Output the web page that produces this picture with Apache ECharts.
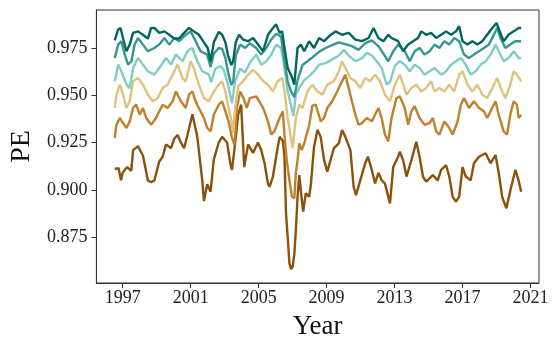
<!DOCTYPE html>
<html>
<head>
<meta charset="utf-8">
<script src="https://cdn.jsdelivr.net/npm/echarts@6/dist/echarts.min.js"></script>
<style>
  html, body { margin: 0; padding: 0; background: #fff; }
  #chart { width: 557px; height: 350px; }
</style>
</head>
<body>
<div id="chart"></div>
<script>
// tick labels
const yearTicks = [1997, 2001, 2005, 2009, 2013, 2017, 2021]
const peTicks = [0.875, 0.9, 0.925, 0.95, 0.975]

// series, [year, PE]
const brownPE = [[1996.53,0.911],[1996.75,0.9115],[1996.90,0.905],[1997.00,0.909],[1997.25,0.912],[1997.50,0.910],[1997.61,0.921],[1997.90,0.923],[1998.19,0.918],[1998.48,0.905],[1998.67,0.904],[1998.86,0.905],[1999.15,0.915],[1999.35,0.9175],[1999.55,0.924],[1999.84,0.922],[2000.03,0.927],[2000.23,0.929],[2000.42,0.925],[2000.61,0.922],[2000.81,0.929],[2001.10,0.940],[2001.39,0.928],[2001.68,0.905],[2001.78,0.894],[2001.97,0.903],[2002.17,0.899],[2002.36,0.916],[2002.65,0.925],[2002.85,0.928],[2003.14,0.925],[2003.33,0.914],[2003.43,0.9105],[2003.62,0.925],[2003.80,0.940],[2003.97,0.945],[2004.15,0.912],[2004.38,0.924],[2004.67,0.9195],[2004.96,0.925],[2005.15,0.921],[2005.35,0.914],[2005.54,0.9034],[2005.64,0.9016],[2005.84,0.907],[2006.03,0.9175],[2006.23,0.928],[2006.42,0.926],[2006.52,0.9175],[2006.61,0.8875],[2006.71,0.875],[2006.81,0.861],[2006.91,0.858],[2007.00,0.8593],[2007.10,0.866],[2007.19,0.8787],[2007.29,0.8963],[2007.39,0.9078],[2007.54,0.8946],[2007.62,0.8884],[2007.77,0.8981],[2007.97,0.8963],[2008.07,0.9025],[2008.26,0.9228],[2008.46,0.9316],[2008.65,0.928],[2008.85,0.9157],[2009.04,0.9096],[2009.23,0.9157],[2009.43,0.922],[2009.72,0.9246],[2009.91,0.9316],[2010.10,0.928],[2010.40,0.921],[2010.59,0.9016],[2010.73,0.8972],[2010.98,0.905],[2011.27,0.914],[2011.43,0.9175],[2011.66,0.9105],[2011.85,0.9034],[2012.05,0.909],[2012.24,0.905],[2012.43,0.9034],[2012.73,0.8928],[2012.92,0.912],[2013.21,0.9175],[2013.31,0.9201],[2013.50,0.9157],[2013.70,0.907],[2013.99,0.9157],[2014.28,0.9254],[2014.47,0.9175],[2014.67,0.907],[2014.86,0.9043],[2015.25,0.9078],[2015.54,0.905],[2015.74,0.9105],[2016.03,0.913],[2016.22,0.907],[2016.42,0.8963],[2016.61,0.8937],[2016.80,0.8963],[2017.00,0.912],[2017.19,0.907],[2017.48,0.905],[2017.67,0.914],[2017.97,0.9175],[2018.36,0.9193],[2018.65,0.914],[2018.94,0.9184],[2019.13,0.909],[2019.33,0.8963],[2019.58,0.8902],[2019.82,0.8999],[2020.11,0.9105],[2020.30,0.905],[2020.45,0.899]]

const orangePE = [[1996.53,0.9274],[1996.63,0.9344],[1996.83,0.938],[1997.02,0.9353],[1997.22,0.9327],[1997.41,0.9362],[1997.61,0.9433],[1997.80,0.945],[1997.99,0.9397],[1998.19,0.9433],[1998.38,0.938],[1998.67,0.9344],[1998.96,0.938],[1999.15,0.9415],[1999.35,0.945],[1999.64,0.9433],[1999.94,0.9468],[2000.13,0.952],[2000.42,0.9468],[2000.71,0.9433],[2000.90,0.9503],[2001.10,0.952],[2001.29,0.9468],[2001.48,0.9433],[2001.78,0.938],[2001.97,0.9327],[2002.17,0.9309],[2002.36,0.9397],[2002.65,0.945],[2002.85,0.9468],[2003.04,0.9415],[2003.23,0.9362],[2003.43,0.9274],[2003.58,0.9238],[2003.72,0.9433],[2003.91,0.952],[2004.11,0.9485],[2004.30,0.9433],[2004.48,0.9485],[2004.86,0.9494],[2005.26,0.9433],[2005.55,0.9362],[2005.74,0.9292],[2005.93,0.9309],[2006.23,0.938],[2006.42,0.9415],[2006.52,0.9292],[2006.65,0.916],[2006.81,0.905],[2006.96,0.8963],[2007.10,0.8955],[2007.19,0.909],[2007.29,0.9157],[2007.39,0.9246],[2007.54,0.921],[2007.68,0.9246],[2007.97,0.934],[2008.16,0.9445],[2008.36,0.945],[2008.65,0.9362],[2008.85,0.938],[2009.04,0.9433],[2009.33,0.9468],[2009.62,0.952],[2009.91,0.9574],[2010.10,0.9609],[2010.30,0.9538],[2010.49,0.9468],[2010.69,0.9397],[2010.88,0.9344],[2011.08,0.9353],[2011.37,0.938],[2011.66,0.9362],[2011.85,0.9397],[2012.05,0.9433],[2012.24,0.938],[2012.43,0.9292],[2012.63,0.9256],[2012.82,0.938],[2013.11,0.9485],[2013.31,0.9494],[2013.60,0.9433],[2013.80,0.9344],[2013.99,0.9415],[2014.18,0.9442],[2014.47,0.938],[2014.76,0.9344],[2015.06,0.9353],[2015.25,0.938],[2015.45,0.9309],[2015.64,0.9292],[2015.93,0.9362],[2016.22,0.9327],[2016.42,0.9292],[2016.71,0.9362],[2016.90,0.945],[2017.09,0.9485],[2017.38,0.9433],[2017.67,0.9468],[2017.97,0.9433],[2018.26,0.9415],[2018.45,0.938],[2018.65,0.9415],[2018.94,0.9468],[2019.13,0.9397],[2019.42,0.9309],[2019.62,0.9292],[2019.81,0.9397],[2020.01,0.9468],[2020.20,0.945],[2020.30,0.938],[2020.45,0.9397]]

const tanPE = [[1996.53,0.9433],[1996.63,0.9503],[1996.83,0.9556],[1997.02,0.9503],[1997.22,0.9433],[1997.41,0.9468],[1997.61,0.9574],[1997.90,0.9591],[1998.19,0.9556],[1998.48,0.9503],[1998.77,0.9468],[1999.06,0.9485],[1999.35,0.9538],[1999.64,0.9556],[2000.03,0.9627],[2000.23,0.9662],[2000.52,0.9591],[2000.71,0.9574],[2001.00,0.968],[2001.19,0.9644],[2001.48,0.9556],[2001.78,0.9485],[2002.07,0.9468],[2002.36,0.952],[2002.65,0.9556],[2002.85,0.9574],[2003.04,0.952],[2003.23,0.9433],[2003.39,0.937],[2003.50,0.930],[2003.62,0.944],[2003.80,0.955],[2004.09,0.9575],[2004.38,0.9609],[2004.67,0.9635],[2004.97,0.9609],[2005.26,0.9575],[2005.55,0.9556],[2005.84,0.952],[2006.12,0.9574],[2006.40,0.9591],[2006.52,0.952],[2006.71,0.938],[2006.90,0.9274],[2007.00,0.922],[2007.19,0.938],[2007.39,0.945],[2007.58,0.9433],[2007.87,0.952],[2008.16,0.9556],[2008.46,0.952],[2008.75,0.9503],[2009.04,0.9556],[2009.43,0.9574],[2009.72,0.9627],[2009.91,0.968],[2010.10,0.9644],[2010.40,0.9591],[2010.69,0.9574],[2010.98,0.9538],[2011.27,0.9591],[2011.56,0.9574],[2011.85,0.9609],[2012.14,0.9574],[2012.43,0.9503],[2012.73,0.9468],[2013.02,0.9556],[2013.31,0.9609],[2013.70,0.9503],[2013.99,0.9538],[2014.28,0.9556],[2014.57,0.952],[2014.86,0.9538],[2015.15,0.9574],[2015.35,0.952],[2015.64,0.9538],[2015.93,0.952],[2016.22,0.9556],[2016.51,0.952],[2016.80,0.9609],[2017.00,0.9627],[2017.29,0.9556],[2017.58,0.952],[2017.87,0.9556],[2018.16,0.9503],[2018.45,0.9485],[2018.75,0.9538],[2019.04,0.9591],[2019.33,0.952],[2019.52,0.9485],[2019.81,0.9556],[2020.01,0.9627],[2020.20,0.9609],[2020.45,0.9574]]

const lightTealPE = [[1996.53,0.9574],[1996.73,0.9662],[1996.92,0.9627],[1997.22,0.9556],[1997.41,0.9538],[1997.61,0.9644],[1997.90,0.9697],[1998.19,0.9662],[1998.48,0.9627],[1998.86,0.9609],[1999.15,0.9644],[1999.55,0.9697],[1999.84,0.9662],[2000.13,0.9715],[2000.52,0.968],[2000.81,0.9733],[2001.10,0.975],[2001.39,0.968],[2001.68,0.9627],[2002.07,0.9609],[2002.20,0.957],[2002.45,0.964],[2002.75,0.9655],[2002.94,0.9635],[2003.14,0.9574],[2003.33,0.9503],[2003.43,0.9458],[2003.62,0.9575],[2003.91,0.964],[2004.20,0.962],[2004.50,0.9675],[2004.86,0.9715],[2005.15,0.9662],[2005.45,0.968],[2005.74,0.9715],[2006.03,0.9768],[2006.32,0.975],[2006.52,0.9644],[2006.71,0.952],[2006.90,0.945],[2007.04,0.939],[2007.19,0.9503],[2007.39,0.9538],[2007.68,0.958],[2007.97,0.960],[2008.26,0.9627],[2008.56,0.9662],[2008.94,0.967],[2009.33,0.969],[2009.72,0.971],[2010.01,0.974],[2010.30,0.971],[2010.69,0.968],[2011.08,0.9695],[2011.37,0.9725],[2011.66,0.971],[2011.95,0.968],[2012.24,0.9645],[2012.53,0.9556],[2012.73,0.957],[2013.02,0.9655],[2013.31,0.968],[2013.60,0.9662],[2013.89,0.9627],[2014.18,0.9662],[2014.47,0.9644],[2014.76,0.9609],[2015.06,0.9627],[2015.35,0.9644],[2015.74,0.9609],[2016.03,0.9627],[2016.32,0.9662],[2016.61,0.968],[2016.90,0.9697],[2017.19,0.9662],[2017.48,0.9609],[2017.77,0.9627],[2018.06,0.9662],[2018.36,0.968],[2018.65,0.9715],[2018.94,0.9768],[2019.13,0.9733],[2019.42,0.968],[2019.71,0.9697],[2020.01,0.9733],[2020.30,0.9697],[2020.45,0.9697]]

const tealPE = [[1996.53,0.9697],[1996.73,0.9768],[1996.92,0.9786],[1997.12,0.9715],[1997.31,0.9662],[1997.51,0.968],[1997.70,0.9768],[1997.90,0.9803],[1998.19,0.9768],[1998.48,0.9733],[1998.86,0.975],[1999.15,0.9768],[1999.45,0.9803],[1999.74,0.9768],[2000.03,0.9803],[2000.32,0.9786],[2000.71,0.982],[2001.00,0.9838],[2001.29,0.9786],[2001.58,0.9733],[2001.97,0.9715],[2002.17,0.965],[2002.36,0.972],[2002.65,0.975],[2002.85,0.9745],[2003.04,0.9697],[2003.23,0.9609],[2003.39,0.9555],[2003.50,0.957],[2003.65,0.971],[2003.91,0.9768],[2004.20,0.975],[2004.48,0.9775],[2004.86,0.975],[2005.15,0.9715],[2005.45,0.975],[2005.74,0.9795],[2006.03,0.9825],[2006.32,0.981],[2006.52,0.968],[2006.71,0.9574],[2006.90,0.952],[2007.10,0.949],[2007.29,0.958],[2007.58,0.966],[2007.87,0.968],[2008.16,0.970],[2008.56,0.973],[2008.94,0.975],[2009.33,0.9765],[2009.72,0.978],[2010.10,0.977],[2010.49,0.976],[2010.88,0.974],[2011.27,0.9775],[2011.66,0.979],[2012.05,0.976],[2012.34,0.972],[2012.63,0.968],[2012.92,0.9733],[2013.21,0.9768],[2013.60,0.9733],[2013.89,0.968],[2014.18,0.9733],[2014.47,0.975],[2014.76,0.9715],[2015.06,0.9733],[2015.35,0.9768],[2015.64,0.975],[2015.93,0.9786],[2016.22,0.9768],[2016.51,0.9803],[2016.80,0.9786],[2017.09,0.9715],[2017.38,0.9697],[2017.67,0.9715],[2017.97,0.9733],[2018.26,0.975],[2018.55,0.9768],[2018.84,0.982],[2019.04,0.9856],[2019.23,0.9803],[2019.52,0.975],[2019.81,0.9768],[2020.10,0.9786],[2020.45,0.9786]]

const darkTealPE = [[1996.53,0.979],[1996.73,0.9847],[1996.87,0.9856],[1997.02,0.980],[1997.22,0.9733],[1997.41,0.9768],[1997.61,0.983],[1997.90,0.9838],[1998.19,0.982],[1998.48,0.980],[1998.67,0.9856],[1998.86,0.9856],[1999.15,0.983],[1999.45,0.9838],[1999.74,0.982],[2000.03,0.980],[2000.32,0.980],[2000.61,0.983],[2000.90,0.9856],[2001.19,0.9838],[2001.48,0.982],[2001.78,0.978],[2002.00,0.975],[2002.17,0.968],[2002.36,0.978],[2002.65,0.9835],[2002.85,0.982],[2003.04,0.978],[2003.20,0.971],[2003.39,0.966],[2003.50,0.968],[2003.65,0.978],[2003.85,0.982],[2004.09,0.9794],[2004.38,0.9786],[2004.67,0.9803],[2004.97,0.9768],[2005.26,0.9733],[2005.55,0.982],[2005.84,0.9856],[2006.03,0.9875],[2006.23,0.983],[2006.38,0.9838],[2006.52,0.975],[2006.71,0.9644],[2006.90,0.9609],[2007.10,0.9556],[2007.29,0.975],[2007.48,0.9768],[2007.68,0.9733],[2007.97,0.9786],[2008.26,0.975],[2008.56,0.9803],[2008.85,0.9786],[2009.14,0.9812],[2009.52,0.9838],[2009.91,0.982],[2010.30,0.983],[2010.69,0.9794],[2011.08,0.9786],[2011.47,0.9803],[2011.76,0.9856],[2012.05,0.9803],[2012.34,0.9786],[2012.63,0.982],[2012.82,0.9803],[2013.21,0.9786],[2013.50,0.9733],[2013.80,0.9768],[2014.09,0.9786],[2014.38,0.9803],[2014.57,0.9838],[2014.86,0.982],[2015.15,0.983],[2015.45,0.9803],[2015.74,0.982],[2016.03,0.9838],[2016.32,0.982],[2016.61,0.9838],[2016.80,0.9865],[2017.00,0.9786],[2017.29,0.9768],[2017.58,0.9786],[2017.87,0.9768],[2018.16,0.9786],[2018.45,0.982],[2018.75,0.9856],[2019.00,0.9882],[2019.19,0.9838],[2019.42,0.9786],[2019.71,0.982],[2020.01,0.9838],[2020.30,0.9856],[2020.45,0.9856]]

const seriesData = [brownPE, orangePE, tanPE, lightTealPE, tealPE, darkTealPE]
const seriesColors = ['#8c510a', '#bf812d', '#dfc27d', '#80cdc1', '#35978f', '#01665e']

const font = 'Liberation Serif'
var myChart = echarts.init(document.getElementById('chart'))

myChart.setOption({
  animation: false,
  grid: {
    left: 92, right: 18, top: 10, bottom: 67,
    show: true, borderColor: '#333', borderWidth: 1
  },
  xAxis: {
    type: 'value',
    min: 1995.45,
    max: 2021.5,
    name: 'Year',
    nameLocation: 'middle',
    nameGap: 30,
    nameTextStyle: { fontFamily: font, fontSize: 27, color: '#111' },
    axisLine: { show: true, onZero: false, lineStyle: { color: '#333' } },
    axisTick: { show: true, length: 5, customValues: yearTicks, lineStyle: { color: '#333' } },
    axisLabel: {
      customValues: yearTicks, margin: 6, fontFamily: font, fontSize: 18, color: '#222',
      formatter: v => String(v)
    },
    splitLine: { show: false }
  },
  yAxis: {
    type: 'value',
    min: 0.8507,
    max: 0.9951,
    name: 'PE',
    nameLocation: 'middle',
    nameGap: 58,
    nameTextStyle: { fontFamily: font, fontSize: 28, color: '#111' },
    axisLine: { show: true, lineStyle: { color: '#333' } },
    axisTick: { show: true, length: 5, customValues: peTicks, lineStyle: { color: '#333' } },
    axisLabel: {
      customValues: peTicks, margin: 9, fontFamily: font, fontSize: 18, color: '#222',
      formatter: v => v.toFixed(3)
    },
    splitLine: { show: false }
  },
  series: seriesData.map((d, i) => ({
    type: 'line',
    data: d,
    showSymbol: false,
    lineStyle: { color: seriesColors[i], width: 2.4 },
    itemStyle: { color: seriesColors[i] }
  }))
})
</script>
</body>
</html>
